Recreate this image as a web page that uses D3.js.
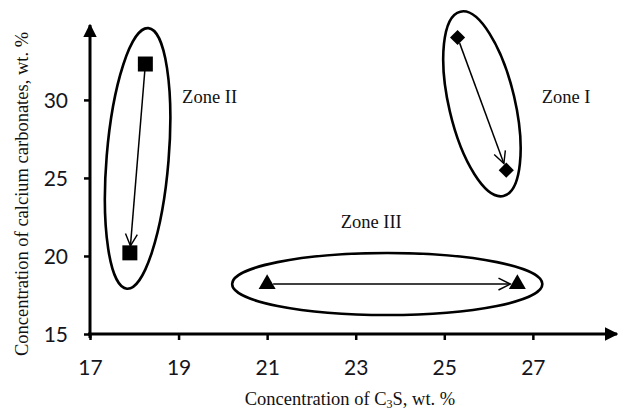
<!DOCTYPE html>
<html>
<head>
<meta charset="utf-8">
<script src="https://cdn.jsdelivr.net/npm/d3@7/dist/d3.min.js"></script>
<style>
  body { margin:0; background:#fff; }
  .tick-label { font-family: Lato, "Open Sans", sans-serif; font-size:21px; fill:#151520; }
  .serif { font-family: "Liberation Serif", "Times New Roman", serif; font-size:18.5px; fill:#111; }
</style>
</head>
<body>
<svg id="chart" width="621" height="412"></svg>
<script>
  // zone data
  var zones   = ["Zone I", "Zone II", "Zone III"];
  var shapes  = ["diamond", "square", "triangle"];
  var startX  = [25.3, 18.25, 21.0];
  var startY  = [34.0, 32.3, 18.2];
  var endX    = [26.4, 17.9, 26.65];
  var endY    = [25.5, 20.2, 18.2];
  var xTicks  = [17, 19, 21, 23, 25, 27];
  var yTicks  = [15, 20, 25, 30];

  var svg = d3.select("#chart");
  var x = d3.scaleLinear().domain([17, 28.9]).range([90, 617]);
  var y = d3.scaleLinear().domain([15, 34.8]).range([334, 25]);

  // arrowheads
  var defs = svg.append("defs");
  defs.append("marker").attr("id","axisHead")
    .attr("viewBox","0 0 10 10").attr("refX",9).attr("refY",5)
    .attr("markerWidth",4.5).attr("markerHeight",4.5).attr("markerUnits","strokeWidth")
    .attr("orient","auto")
    .append("path").attr("d","M0,0 L10,5 L0,10 Z").attr("fill","#000");
  defs.append("marker").attr("id","openHead")
    .attr("viewBox","0 0 12 12").attr("refX",11).attr("refY",6)
    .attr("markerWidth",9.5).attr("markerHeight",9.5).attr("markerUnits","strokeWidth")
    .attr("orient","auto")
    .append("path").attr("d","M1,1 L11,6 L1,11").attr("fill","none")
    .attr("stroke","#000").attr("stroke-width",1.2);

  // axes
  var xa = svg.append("g").attr("transform","translate(0," + y(15) + ")")
    .call(d3.axisBottom(x).tickValues(xTicks).tickSize(6).tickFormat(d3.format("d")));
  var ya = svg.append("g").attr("transform","translate(" + x(17) + ",0)")
    .call(d3.axisLeft(y).tickValues(yTicks).tickSize(6).tickFormat(d3.format("d")));
  [xa, ya].forEach(function(g){
    g.select(".domain").remove();
    g.selectAll(".tick line").attr("stroke","#000").attr("stroke-width",2.5);
    g.selectAll(".tick text").attr("class","tick-label").attr("fill", null);
  });
  xa.selectAll(".tick text").attr("dy","0.36em").attr("y",33);
  ya.selectAll(".tick text").attr("x",-22).attr("dy","0.36em");

  svg.append("line").attr("x1",x(17)-2).attr("x2",x.range()[1])
    .attr("y1",y(15)).attr("y2",y(15))
    .attr("stroke","#000").attr("stroke-width",3).attr("marker-end","url(#axisHead)");
  svg.append("line").attr("x1",x(17)).attr("x2",x(17))
    .attr("y1",y(15)+4).attr("y2",y.range()[1])
    .attr("stroke","#000").attr("stroke-width",3).attr("marker-end","url(#axisHead)");

  // axis titles
  var xt = svg.append("text").attr("class","serif").attr("text-anchor","middle")
    .attr("x",350).attr("y",405);
  xt.append("tspan").text("Concentration of C");
  xt.append("tspan").attr("font-size","12px").attr("dy",3).text("3");
  xt.append("tspan").attr("dy",-3).text("S, wt. %");

  svg.append("text").attr("class","serif").attr("text-anchor","middle")
    .attr("font-size","20px")
    .attr("transform","translate(28,194) rotate(-90)")
    .text("Concentration of calcium carbonates, wt. %");

  // ellipses around each zone
  var pad   = [24, 36, 30];
  var minor = [33, 31, 31];
  var tilt  = [7, 0, 0];
  var shift = [0, 0, -5];
  zones.forEach(function(z, i){
    var x1 = x(startX[i]), y1 = y(startY[i]), x2 = x(endX[i]), y2 = y(endY[i]);
    var cx = (x1 + x2) / 2 + shift[i], cy = (y1 + y2) / 2;
    var ang = Math.atan2(y2 - y1, x2 - x1) * 180 / Math.PI + tilt[i];
    var half = Math.hypot(x2 - x1, y2 - y1) / 2;
    svg.append("ellipse")
      .attr("transform","translate(" + cx + "," + cy + ") rotate(" + ang + ")")
      .attr("rx", half + pad[i]).attr("ry", minor[i])
      .attr("fill","none").attr("stroke","#000").attr("stroke-width",2.6);
  });

  // arrows between points
  zones.forEach(function(z, i){
    var x1 = x(startX[i]), y1 = y(startY[i]), x2 = x(endX[i]), y2 = y(endY[i]);
    var d = Math.hypot(x2 - x1, y2 - y1);
    var ux = (x2 - x1) / d, uy = (y2 - y1) / d;
    svg.append("line")
      .attr("x1", x1 + ux * 6).attr("y1", y1 + uy * 6)
      .attr("x2", x2 - ux * 7).attr("y2", y2 - uy * 7)
      .attr("stroke","#000").attr("stroke-width",1.5)
      .attr("marker-end","url(#openHead)");
  });

  // markers
  var sym = {
    square:   d3.symbol().type(d3.symbolSquare).size(225),
    diamond:  d3.symbol().type(d3.symbolSquare).size(115),
    triangle: d3.symbol().type(d3.symbolTriangle).size(125)
  };
  zones.forEach(function(z, i){
    [[startX[i], startY[i]], [endX[i], endY[i]]].forEach(function(p){
      svg.append("path").attr("d", sym[shapes[i]]())
        .attr("transform","translate(" + x(p[0]) + "," + y(p[1]) + ")" +
          (shapes[i] === "diamond" ? " rotate(45)" : ""))
        .attr("fill","#000");
    });
  });

  // zone labels
  var labelX = [27.2, 19.08, 22.66];
  var labelY = [29.8, 29.8, 21.8];
  zones.forEach(function(z, i){
    svg.append("text").attr("class","serif").attr("x", x(labelX[i])).attr("y", y(labelY[i]))
      .text(z);
  });
</script>
</body>
</html>
